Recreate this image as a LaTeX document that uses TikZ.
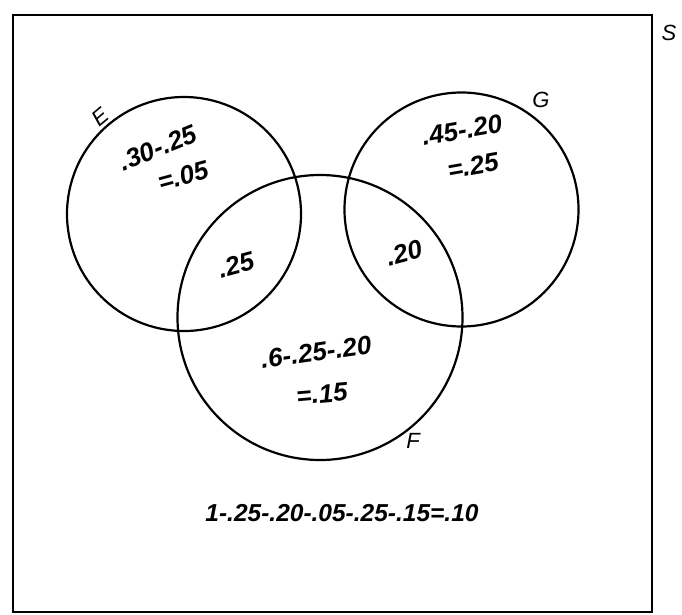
\documentclass[tikz,border=0pt]{standalone}
\usepackage{fontspec}
\setmainfont{Liberation Sans}
\begin{document}
\begin{tikzpicture}[x=1pt,y=-1pt,
  ring/.style={draw,line width=2.2pt},
  hand/.style={font=\bfseries\itshape\fontsize{26}{30}\selectfont,inner sep=0pt,align=center},
  lab/.style={font=\itshape\fontsize{22}{26}\selectfont,inner sep=0pt}]
\useasboundingbox (0,0) rectangle (682,615);
\draw[line width=2.4pt] (13,15) rectangle (652,612);
\node[lab] (Slab) at (669,33) {S};
\coordinate (E) at (184,214);
\coordinate (G) at (461.5,209.5);
\coordinate (F) at (320,317.5);
\draw[ring] (E) circle[radius=117];
\draw[ring] (G) circle[radius=117];
\draw[ring] (F) circle[radius=142.5];
\node[lab,rotate=40] (Elab) at (100,117) {E};
\node[lab] (Glab) at (541,100) {G};
\node[lab] (Flab) at (413,441) {F};
\node[hand,rotate=22] (e1) at (158,148) {.30-.25};
\node[hand,rotate=15] (e2) at (183,176) {=.05};
\node[hand,rotate=10] (g1) at (462,130) {.45-.20};
\node[hand,rotate=10] (g2) at (473,166) {=.25};
\node[hand,rotate=15] (ef) at (236,265) {.25};
\node[hand,rotate=15] (gf) at (404,253) {.20};
\node[hand,rotate=8] (f1) at (316,352) {.6-.25-.20};
\node[hand,rotate=5] (f2) at (322,394) {=.15};
\node[hand,font=\bfseries\itshape\fontsize{24.5}{28}\selectfont] (rest) at (342,513) {1-.25-.20-.05-.25-.15=.10};
\end{tikzpicture}
\end{document}
